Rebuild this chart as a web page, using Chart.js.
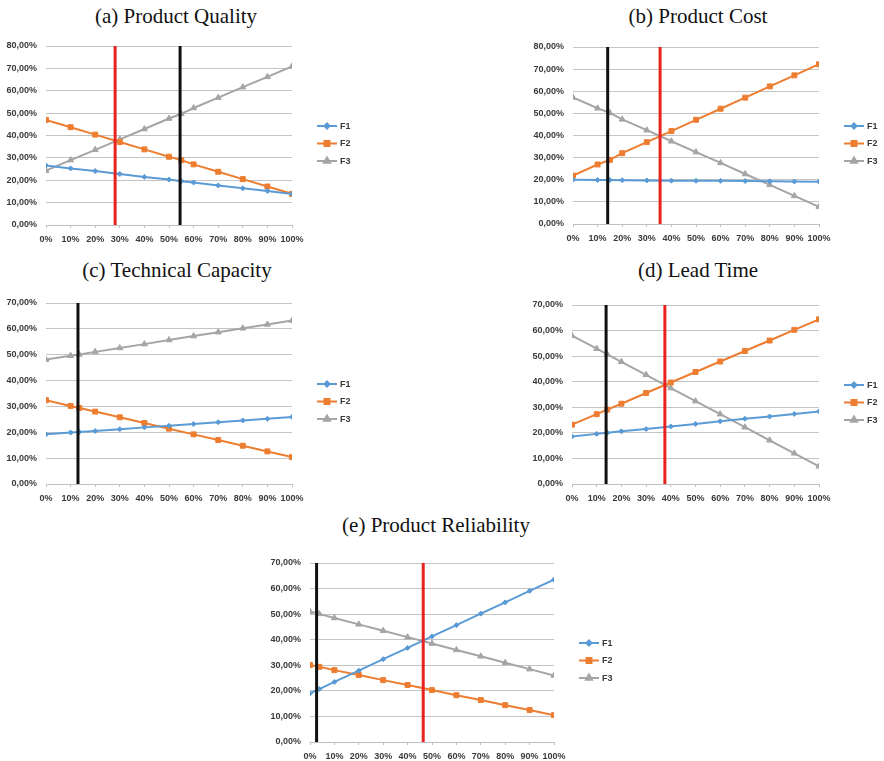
<!DOCTYPE html>
<html>
<head>
<meta charset="utf-8">
<script src="https://cdn.jsdelivr.net/npm/chart.js@4.4.1/dist/chart.umd.min.js"></script>
<style>
    body { margin: 0; background: #fff; }
    #page { position: relative; width: 884px; height: 761px; overflow: hidden; background: #fff; }
    .title {
        position: absolute;
        font-family: "Liberation Serif", "Times New Roman", serif;
        font-size: 21px;
        line-height: 1;
        color: #111;
        white-space: nowrap;
        transform: translateX(-50%);
    }
    canvas { position: absolute; }
</style>
</head>
<body>
<div id="page">
    <div class="title" style="left:176px; top:6px;">(a) Product Quality</div>
    <div class="title" style="left:698px; top:6px;">(b) Product Cost</div>
    <div class="title" style="left:177px; top:260px;">(c) Technical Capacity</div>
    <div class="title" style="left:698px; top:260px;">(d) Lead Time</div>
    <div class="title" style="left:436px; top:515px;">(e) Product Reliability</div>
</div>
<script>
// Series names and x tick labels
const seriesNames = ['F1', 'F2', 'F3'];
const xTicks = [0, 10, 20, 30, 40, 50, 60, 70, 80, 90, 100];

// (a) Product Quality
const qualityX = [0, 10, 20, 30, 40, 50, 55, 60, 70, 80, 90, 100];
const qualityF1 = [26.6, 25.3, 24.1, 22.8, 21.5, 20.3, 19.6, 19.0, 17.7, 16.4, 15.2, 13.9];
const qualityF2 = [47.0, 43.7, 40.4, 37.1, 33.8, 30.5, 29.0, 27.1, 23.8, 20.5, 17.2, 13.9];
const qualityF3 = [24.3, 29.0, 33.6, 38.3, 42.9, 47.6, 49.7, 52.3, 56.9, 61.6, 66.2, 70.9];
const qualityLines = { red: 28.1, black: 54.5 };

// (b) Product Cost
const costX = [0, 10, 15, 20, 30, 40, 50, 60, 70, 80, 90, 100];
const costF1 = [20.0, 19.9, 19.9, 19.8, 19.7, 19.6, 19.5, 19.5, 19.4, 19.3, 19.2, 19.1];
const costF2 = [21.9, 26.9, 29.0, 32.0, 37.0, 42.0, 47.1, 52.1, 57.1, 62.2, 67.2, 72.2];
const costF3 = [57.2, 52.3, 50.2, 47.3, 42.4, 37.4, 32.5, 27.6, 22.6, 17.7, 12.7, 7.8];
const costLines = { black: 14.1, red: 35.4 };

// (c) Technical Capacity
const capacityX = [0, 10, 13.5, 20, 30, 40, 50, 60, 70, 80, 90, 100];
const capacityF1 = [19.2, 19.9, 20.1, 20.5, 21.2, 21.9, 22.5, 23.2, 23.9, 24.6, 25.2, 25.9];
const capacityF2 = [32.4, 30.2, 29.4, 28.0, 25.8, 23.6, 21.4, 19.2, 17.0, 14.8, 12.6, 10.4];
const capacityF3 = [48.1, 49.6, 50.1, 51.1, 52.6, 54.1, 55.7, 57.2, 58.7, 60.2, 61.7, 63.2];
const capacityLines = { black: 13.0 };

// (d) Lead Time
const leadX = [0, 10, 14.3, 20, 30, 40, 50, 60, 70, 80, 90, 100];
const leadF1 = [18.6, 19.6, 20.0, 20.6, 21.5, 22.5, 23.5, 24.5, 25.5, 26.4, 27.4, 28.4];
const leadF2 = [23.2, 27.3, 29.1, 31.4, 35.6, 39.7, 43.8, 47.9, 52.0, 56.1, 60.3, 64.4];
const leadF3 = [58.0, 52.9, 50.7, 47.8, 42.7, 37.5, 32.4, 27.3, 22.2, 17.1, 12.0, 6.9];
const leadLines = { black: 13.8, red: 37.6 };

// (e) Product Reliability
const reliabilityX = [0, 3.8, 10, 20, 30, 40, 50, 60, 70, 80, 90, 100];
const reliabilityF1 = [19.0, 20.7, 23.5, 27.9, 32.4, 36.8, 41.3, 45.7, 50.2, 54.6, 59.1, 63.5];
const reliabilityF2 = [30.1, 29.4, 28.1, 26.2, 24.2, 22.3, 20.3, 18.3, 16.4, 14.4, 12.5, 10.5];
const reliabilityF3 = [51.0, 50.1, 48.5, 46.0, 43.5, 41.0, 38.5, 36.0, 33.5, 31.0, 28.5, 26.0];
const reliabilityLines = { black: 2.7, red: 46.4 };

const seriesColors = ['#5B9BD5', '#ED7D31', '#A5A5A5'];
const seriesPoints = ['rectRot', 'rect', 'triangle'];
const seriesRadius = [2.5, 3.5, 3.5];
const lineColors = { red: '#E8231F', black: '#111111' };

const tickFont = { family: '"Liberation Sans", Arial, sans-serif', size: 9, weight: 'bold' };
const tickColor = '#3a3a3a';

// Excel-like legend on the right: short line with marker, then name
const sideLegend = {
    id: 'sideLegend',
    afterDraw(chart) {
        const ctx = chart.ctx;
        const area = chart.chartArea;
        const x0 = area.right + 25;
        const midY = (area.top + area.bottom) / 2 + 8;
        ctx.save();
        seriesNames.forEach((name, i) => {
            const y = midY + (i - 1) * 17.5;
            ctx.strokeStyle = seriesColors[i];
            ctx.lineWidth = 2;
            ctx.beginPath();
            ctx.moveTo(x0, y);
            ctx.lineTo(x0 + 20, y);
            ctx.stroke();
            Chart.helpers.drawPoint(ctx, {
                pointStyle: seriesPoints[i],
                radius: seriesRadius[i],
                rotation: 0,
                borderWidth: 1
            }, x0 + 10, y);
            ctx.fillStyle = seriesColors[i];
            ctx.fill();
            ctx.fillStyle = tickColor;
            ctx.font = 'bold 9px "Liberation Sans", Arial, sans-serif';
            ctx.textBaseline = 'middle';
            ctx.fillText(name, x0 + 23, y + 0.5);
        });
        ctx.restore();
    }
};

function toPoints(xs, ys) {
    return xs.map((x, i) => ({ x: x, y: ys[i] }));
}

// box: plot area in page pixels
function makePanel(box, yMax, xs, f1, f2, f3, marks) {
    const padLeft = 50, padTop = 20, padRight = 95, padBottom = 30;
    const canvas = document.createElement('canvas');
    const w = Math.round(box.right - box.left) + padLeft + padRight;
    const h = Math.round(box.bottom - box.top) + padTop + padBottom;
    canvas.width = w;
    canvas.height = h;
    canvas.style.width = w + 'px';
    canvas.style.height = h + 'px';
    canvas.style.left = Math.round(box.left - padLeft) + 'px';
    canvas.style.top = Math.round(box.top - padTop) + 'px';
    document.getElementById('page').appendChild(canvas);

    const datasets = [f1, f2, f3].map((ys, i) => ({
        label: seriesNames[i],
        data: toPoints(xs, ys),
        borderColor: seriesColors[i],
        backgroundColor: seriesColors[i],
        borderWidth: 2,
        pointStyle: seriesPoints[i],
        pointRadius: seriesRadius[i],
        pointBorderWidth: 1,
        tension: 0,
        order: 2
    }));

    Object.keys(marks).forEach(key => {
        datasets.push({
            label: key,
            data: [{ x: marks[key], y: 0 }, { x: marks[key], y: yMax }],
            borderColor: lineColors[key],
            borderWidth: 3,
            pointRadius: 0,
            order: 1
        });
    });

    new Chart(canvas, {
        type: 'line',
        data: { datasets: datasets },
        options: {
            responsive: false,
            animation: false,
            devicePixelRatio: 1,
            layout: { padding: { left: 0, top: padTop, right: padRight, bottom: 0 } },
            plugins: {
                legend: { display: false },
                tooltip: { enabled: false }
            },
            scales: {
                x: {
                    type: 'linear',
                    min: 0,
                    max: 100,
                    afterBuildTicks: scale => {
                        scale.ticks = xTicks.map(v => ({ value: v }));
                    },
                    afterFit: scale => { scale.height = padBottom; },
                    grid: {
                        drawOnChartArea: false,
                        drawTicks: true,
                        tickLength: 3,
                        color: '#bfbfbf'
                    },
                    border: { display: true, color: '#bfbfbf', width: 1 },
                    ticks: {
                        autoSkip: false,
                        maxRotation: 0,
                        padding: 6,
                        font: tickFont,
                        color: tickColor,
                        callback: value => value + '%'
                    }
                },
                y: {
                    min: 0,
                    max: yMax,
                    afterFit: scale => { scale.width = padLeft; },
                    grid: { color: '#c4c4c4', drawTicks: false, lineWidth: 1 },
                    border: { display: false },
                    ticks: {
                        stepSize: 10,
                        padding: 9,
                        font: tickFont,
                        color: tickColor,
                        callback: value => value.toFixed(2).replace('.', ',') + '%'
                    }
                }
            }
        },
        plugins: [sideLegend]
    });
}

makePanel({ left: 45.7, right: 292, top: 45.7, bottom: 224.5 }, 80,
    qualityX, qualityF1, qualityF2, qualityF3, qualityLines);
makePanel({ left: 573, right: 819, top: 46.7, bottom: 224 }, 80,
    costX, costF1, costF2, costF3, costLines);
makePanel({ left: 46, right: 292, top: 302.5, bottom: 483 }, 70,
    capacityX, capacityF1, capacityF2, capacityF3, capacityLines);
makePanel({ left: 572, right: 819, top: 305, bottom: 484 }, 70,
    leadX, leadF1, leadF2, leadF3, leadLines);
makePanel({ left: 310, right: 554, top: 563, bottom: 741.5 }, 70,
    reliabilityX, reliabilityF1, reliabilityF2, reliabilityF3, reliabilityLines);
</script>
</body>
</html>
